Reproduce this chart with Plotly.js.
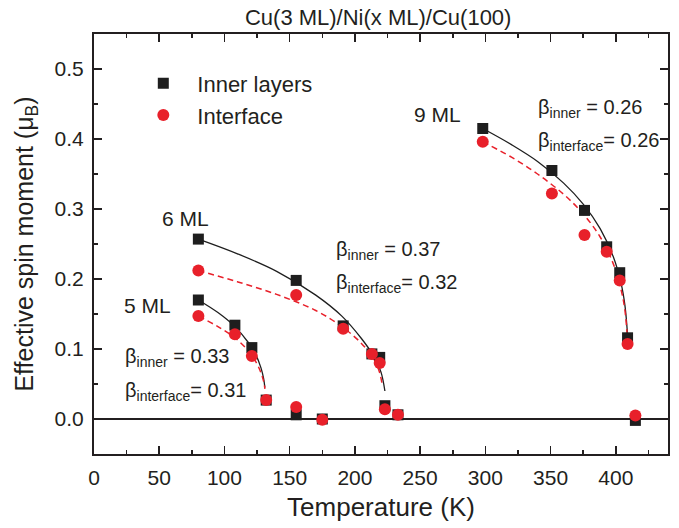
<!DOCTYPE html>
<html>
<head>
<meta charset="utf-8">
<script src="https://cdn.plot.ly/plotly-3.0.1.min.js"></script>
<style>html,body{margin:0;padding:0;background:#fff;}#chart{width:679px;height:528px;}</style>
</head>
<body>
<div id="chart"></div>
<script>
// Measured points: temperature (K) and effective spin moment (μB)
var temp5 = [80, 108, 121, 132, 155, 175];
var inner5 = [0.170, 0.134, 0.102, 0.027, 0.006, 0.000];
var iface5 = [0.147, 0.121, 0.090, 0.027, 0.017, -0.001];

var temp6 = [80, 155, 191, 213, 219, 223, 233];
var inner6 = [0.257, 0.198, 0.133, 0.093, 0.088, 0.019, 0.006];
var iface6 = [0.212, 0.177, 0.129, 0.093, 0.080, 0.014, 0.006];

var temp9 = [298, 351, 376, 393, 403, 409, 415];
var inner9 = [0.415, 0.355, 0.298, 0.246, 0.209, 0.116, -0.002];
var iface9 = [0.396, 0.322, 0.263, 0.239, 0.198, 0.107, 0.005];

// Fit curves
var fitT5 = [80, 95, 108, 118, 124, 128, 130, 131];
var fitInner5 = [0.170, 0.152, 0.132, 0.110, 0.092, 0.073, 0.058, 0.045];
var fitIface5 = [0.147, 0.132, 0.116, 0.098, 0.082, 0.066, 0.054, 0.043];

var fitT6i = [80, 110, 140, 170, 190, 205, 215, 220, 223];
var fitInner6 = [0.257, 0.236, 0.211, 0.177, 0.147, 0.115, 0.088, 0.067, 0.040];
var fitT6f = [80, 110, 140, 170, 190, 205, 215, 219, 221];
var fitIface6 = [0.212, 0.196, 0.178, 0.155, 0.132, 0.108, 0.084, 0.066, 0.048];

var fitT9 = [298, 320, 340, 360, 375, 388, 398, 404, 407, 409];
var fitInner9 = [0.415, 0.392, 0.368, 0.337, 0.307, 0.272, 0.232, 0.194, 0.162, 0.120];
var fitIface9 = [0.396, 0.374, 0.350, 0.321, 0.293, 0.260, 0.222, 0.185, 0.155, 0.112];

var seriesNames = ['Inner layers', 'Interface'];
var xTickVals = [0, 50, 100, 150, 200, 250, 300, 350, 400];
var yTickVals = [0.0, 0.1, 0.2, 0.3, 0.4, 0.5];

var BLACK = '#1e1e1e';
var RED = '#e8202a';
var TXT = '#231f20';

function fitLine(x, y, color, dash) {
  return {x: x, y: y, type: 'scatter', mode: 'lines', showlegend: false, hoverinfo: 'skip',
    line: {color: color, width: dash ? 1.5 : 1.3, dash: dash || 'solid', shape: 'spline', smoothing: 1}};
}

var traces = [
  fitLine(fitT5, fitInner5, BLACK),
  fitLine(fitT5, fitIface5, RED, '6px,4px'),
  fitLine(fitT6i, fitInner6, BLACK),
  fitLine(fitT6f, fitIface6, RED, '6px,4px'),
  fitLine(fitT9, fitInner9, BLACK),
  fitLine(fitT9, fitIface9, RED, '6px,4px'),
  {x: temp5.concat(temp6, temp9), y: inner5.concat(inner6, inner9), type: 'scatter', mode: 'markers',
   name: seriesNames[0], marker: {symbol: 'square', size: 11, color: BLACK}},
  {x: temp5.concat(temp6, temp9), y: iface5.concat(iface6, iface9), type: 'scatter', mode: 'markers',
   name: seriesNames[1], marker: {symbol: 'circle', size: 12, color: RED}}
];

var annFont = {family: 'Arial, Liberation Sans, sans-serif', size: 20, color: TXT};
var mlFont = {family: 'Arial, Liberation Sans, sans-serif', size: 21, color: TXT};
function ann(x, y, text, font) {
  return {x: x, y: y, xref: 'x', yref: 'y', text: text, showarrow: false, xanchor: 'left', yanchor: 'middle', font: font || annFont};
}

var layout = {
  width: 679, height: 528,
  margin: {l: 94, r: 11, t: 34, b: 74},
  paper_bgcolor: '#ffffff', plot_bgcolor: '#ffffff',
  font: {family: 'Arial, Liberation Sans, sans-serif', color: TXT, size: 21},
  title: {text: 'Cu(3 ML)/Ni(x ML)/Cu(100)', font: {size: 22, color: TXT}, x: 0.557, xanchor: 'center', y: 0.968, yanchor: 'middle'},
  showlegend: true,
  legend: {x: 0.0615, y: 0.932, xanchor: 'left', yanchor: 'top', bgcolor: 'rgba(0,0,0,0)', borderwidth: 0,
           itemwidth: 58, font: {size: 22, color: TXT}},
  xaxis: {
    range: [0, 440], tickvals: xTickVals, ticks: 'inside', ticklen: 8, tickwidth: 1.5, tickcolor: TXT,
    showline: true, linewidth: 2, linecolor: TXT, mirror: 'ticks', showgrid: false, zeroline: false,
    minor: {dtick: 25, tick0: 0, ticks: 'inside', ticklen: 4, tickwidth: 1.5, tickcolor: TXT, showgrid: false},
    tickfont: {size: 21}, ticklabelstandoff: 4,
    title: {text: 'Temperature (K)', font: {size: 26}, standoff: 10}
  },
  yaxis: {
    range: [-0.05, 0.55], tickvals: yTickVals, tickformat: '.1f', ticks: 'inside', ticklen: 8, tickwidth: 1.5, tickcolor: TXT,
    showline: true, linewidth: 2, linecolor: TXT, mirror: 'ticks', showgrid: false,
    zeroline: true, zerolinewidth: 2, zerolinecolor: TXT,
    minor: {dtick: 0.05, tick0: 0, ticks: 'inside', ticklen: 4, tickwidth: 1.5, tickcolor: TXT, showgrid: false},
    tickfont: {size: 21}, ticklabelstandoff: 4,
    title: {text: 'Effective spin moment (μ<sub>B</sub>)', font: {size: 25}, standoff: 14}
  },
  annotations: [
    ann(50.5, 0.2866, '6 ML', mlFont),
    ann(21.5, 0.1625, '5 ML', mlFont),
    ann(22, 0.088, 'β<sub>inner</sub> = 0.33'),
    ann(22, 0.040, 'β<sub>interface</sub>= 0.31'),
    ann(183.6, 0.241, 'β<sub>inner</sub> = 0.37'),
    ann(183.6, 0.193, 'β<sub>interface</sub>= 0.32'),
    ann(243.6, 0.435, '9 ML', mlFont),
    ann(339, 0.444, 'β<sub>inner</sub> = 0.26'),
    ann(339, 0.396, 'β<sub>interface</sub>= 0.26')
  ]
};

Plotly.newPlot('chart', traces, layout, {displayModeBar: false, staticPlot: true});
</script>
</body>
</html>
